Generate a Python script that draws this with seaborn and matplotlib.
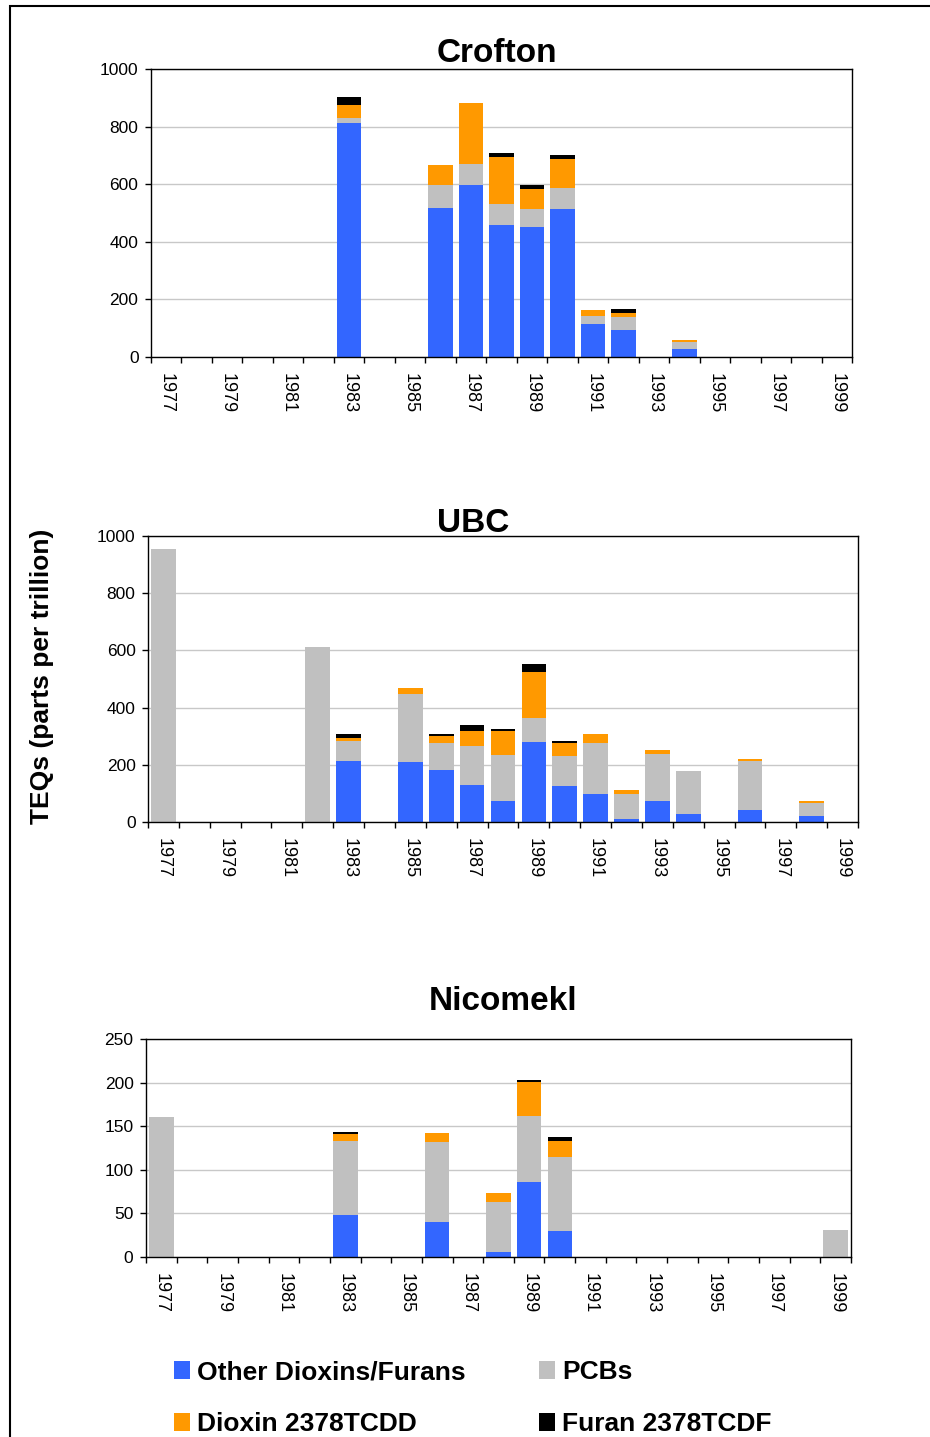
import numpy as np
import pandas as pd
import matplotlib
matplotlib.use("Agg")
import matplotlib.pyplot as plt
from matplotlib.patches import Patch, Rectangle
import seaborn as sns

# ---------------- data ----------------
years = [str(y) for y in range(1977, 2000)]
series_names = ["Other Dioxins/Furans", "PCBs", "Dioxin 2378TCDD", "Furan 2378TCDF"]

def arr(d):
    a = [0.0] * 23
    for k, v in d.items():
        a[k] = v
    return a

crofton_other = arr({6: 813, 9: 518, 10: 598, 11: 459, 12: 452, 13: 514, 14: 115, 15: 94, 17: 28})
crofton_pcb = arr({6: 18, 9: 80, 10: 73, 11: 73, 12: 62, 13: 73, 14: 28, 15: 45, 17: 24})
crofton_tcdd = arr({6: 43, 9: 69, 10: 212, 11: 163, 12: 71, 13: 101, 14: 20, 15: 15, 17: 7})
crofton_tcdf = arr({6: 30, 11: 13, 12: 12, 13: 13, 15: 13})

ubc_other = arr({6: 212, 8: 209, 9: 181, 10: 129, 11: 73, 12: 279, 13: 125, 14: 98, 15: 10,
                 16: 73, 17: 28, 19: 42, 21: 21})
ubc_pcb = arr({0: 955, 5: 613, 6: 70, 8: 237, 9: 94, 10: 136, 11: 160, 12: 83, 13: 105, 14: 177,
               15: 88, 16: 164, 17: 150, 19: 170, 21: 45})
ubc_tcdd = arr({6: 11, 8: 21, 9: 25, 10: 52, 11: 84, 12: 161, 13: 45, 14: 32, 15: 13, 16: 14,
                19: 7, 21: 7})
ubc_tcdf = arr({6: 14, 9: 7, 10: 21, 11: 7, 12: 31, 13: 7})

nico_other = arr({6: 48, 9: 40, 11: 6, 12: 86, 13: 30})
nico_pcb = arr({0: 161, 6: 85, 9: 92, 11: 57, 12: 76, 13: 85, 22: 31})
nico_tcdd = arr({6: 8, 9: 10, 11: 10, 12: 39, 13: 18})
nico_tcdf = arr({6: 2, 12: 2, 13: 5})

panels = [
    ("Crofton", crofton_other, crofton_pcb, crofton_tcdd, crofton_tcdf, 1000, 200),
    ("UBC", ubc_other, ubc_pcb, ubc_tcdd, ubc_tcdf, 1000, 200),
    ("Nicomekl", nico_other, nico_pcb, nico_tcdd, nico_tcdf, 250, 50),
]

colors = {"Other Dioxins/Furans": "#3366FF", "PCBs": "#C0C0C0",
          "Dioxin 2378TCDD": "#FF9900", "Furan 2378TCDF": "#000000"}

# ---------------- style ----------------
sns.set_theme(style="white")
plt.rcParams["font.family"] = ["Liberation Sans", "DejaVu Sans"]
plt.rcParams["text.color"] = "black"

W, H = 930, 1437
fig = plt.figure(figsize=(W / 100, H / 100), dpi=100)
fig.patch.set_facecolor("white")

# axes boxes in pixels: left, right, top, bottom
boxes = [(151, 852, 69, 357), (148, 858, 536, 822), (146, 851, 1039, 1257)]
titles_pos = [(497, 53), (473, 523), (503, 1001)]

for (name, oth, pcb, tcdd, tcdf, ymax, ystep), (l, r, t, b), (tx, ty) in zip(panels, boxes, titles_pos):
    ax = fig.add_axes([l / W, 1 - b / H, (r - l) / W, (b - t) / H])
    df = pd.DataFrame({"year": years, "other": oth, "pcb": pcb, "tcdd": tcdd, "tcdf": tcdf})
    df["c1"] = df["other"]
    df["c2"] = df["c1"] + df["pcb"]
    df["c3"] = df["c2"] + df["tcdd"]
    df["c4"] = df["c3"] + df["tcdf"]
    for col, sname in [("c4", "Furan 2378TCDF"), ("c3", "Dioxin 2378TCDD"),
                       ("c2", "PCBs"), ("c1", "Other Dioxins/Furans")]:
        sns.barplot(data=df, x="year", y=col, order=years, color=colors[sname],
                    saturation=1, width=0.8, linewidth=0, ax=ax, errorbar=None)
    ax.set_xlim(-0.5, 22.5)
    ax.set_ylim(0, ymax)
    ax.set_yticks(np.arange(0, ymax + 1, ystep))
    ax.set_xlabel("")
    ax.set_ylabel("")
    ax.set_xticks(range(0, 23, 2))
    ax.set_xticklabels(years[::2], rotation=-90, fontsize=13)
    ax.set_xticks(np.arange(-0.5, 23, 1), minor=True)
    ax.tick_params(axis="x", which="major", length=0, pad=11.5)
    ax.tick_params(axis="x", which="minor", length=4, width=1, direction="out", color="black", bottom=True)
    ax.tick_params(axis="y", which="major", length=4, width=1, direction="out", color="black",
                   labelsize=12.5, pad=5, left=True)
    ax.tick_params(colors="black", which="both")
    for lab in ax.get_xticklabels() + ax.get_yticklabels():
        lab.set_color("black")
    ax.yaxis.grid(True, color="#c8c8c8", linewidth=1)
    ax.xaxis.grid(False)
    ax.set_axisbelow(True)
    for sp in ax.spines.values():
        sp.set_visible(True)
        sp.set_color("black")
        sp.set_linewidth(1)
    fig.text(tx / W, 1 - ty / H, name, ha="center", va="center", fontsize=24, fontweight="bold",
             color="black")

fig.text(42 / W, 1 - 676 / H, "TEQs (parts per trillion)", rotation=90, ha="center", va="center",
         fontsize=19, fontweight="bold", color="black")

order = ["Other Dioxins/Furans", "Dioxin 2378TCDD", "PCBs", "Furan 2378TCDF"]
handles = [Patch(facecolor=colors[s], edgecolor="none") for s in order]
leg = fig.legend(handles, order, ncol=2, loc="upper left", bbox_to_anchor=(174 / W, 1 - 1360 / H),
                 frameon=False, borderpad=0, borderaxespad=0, handlelength=0.6, handleheight=0.7,
                 handletextpad=0.27, columnspacing=2.8, labelspacing=1.06, labelcolor="black",
                 prop={"family": ["Liberation Sans", "DejaVu Sans"], "weight": "bold", "size": 19})

# outer frame (left and top edges visible)
fig.patches.append(Rectangle((9.5 / W, -0.05), 1.2, 1 - 6 / H + 0.05, transform=fig.transFigure,
                             fill=False, edgecolor="black", linewidth=1.5, clip_on=False))

fig.savefig("out.png", dpi=100, facecolor="white")
